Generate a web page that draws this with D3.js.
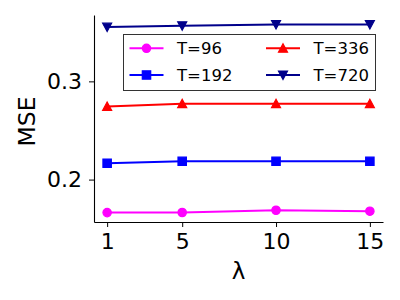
<!DOCTYPE html>
<html>
<head>
<meta charset="utf-8">
<script src="https://cdn.jsdelivr.net/npm/d3@7"></script>
<style>
  body { margin: 0; background: #fff; }
  svg { display: block; font-family: "DejaVu Sans", sans-serif; }
</style>
</head>
<body>
<script>
// values
const lambdas = [1, 5, 10, 15];
const seriesNames = ['T=96', 'T=192', 'T=336', 'T=720'];
const mseT96 = [0.1664, 0.1665, 0.1688, 0.1678];
const mseT192 = [0.2166, 0.2186, 0.2186, 0.2186];
const mseT336 = [0.2745, 0.2773, 0.2773, 0.2773];
const mseT720 = [0.3553, 0.3567, 0.3580, 0.3580];
const yTicks = [0.2, 0.3];

const SETTINGS = {
    width: 400,
    height: 300,
    left: 94,
    right: 383,
    top: 15,
    bottom: 222
};

const series = [
    {name: seriesNames[0], values: mseT96, color: '#ff00ff', marker: 'circle'},
    {name: seriesNames[1], values: mseT192, color: '#0000ff', marker: 'square'},
    {name: seriesNames[2], values: mseT336, color: '#ff0000', marker: 'up'},
    {name: seriesNames[3], values: mseT720, color: '#00008b', marker: 'down'}
];

function markerPath(type){
    let s = 4.2;
    if(type == 'circle') {
        return d3.symbol().type(d3.symbolCircle).size(Math.PI*s*s)();
    }
    if(type == 'square') {
        return 'M'+(-s)+','+(-s)+'H'+s+'V'+s+'H'+(-s)+'Z';
    }
    if(type == 'up') {
        return 'M0,'+(-s-0.3)+'L'+(s+0.3)+','+(s-0.3)+'L'+(-s-0.3)+','+(s-0.3)+'Z';
    }
    return 'M0,'+(s+0.3)+'L'+(s+0.3)+','+(-s+0.3)+'L'+(-s-0.3)+','+(-s+0.3)+'Z';
}

const svg = d3.select('body')
                .append('svg')
                .attr('width', SETTINGS.width)
                .attr('height', SETTINGS.height);

// matplotlib-like 5% margins
let xExtent = d3.extent(lambdas);
let xPad = (xExtent[1]-xExtent[0])*0.05;
let allValues = [].concat(mseT96, mseT192, mseT336, mseT720);
let yExtent = d3.extent(allValues);
let yPad = (yExtent[1]-yExtent[0])*0.05;

const x = d3.scaleLinear()
            .domain([xExtent[0]-xPad, xExtent[1]+xPad])
            .range([SETTINGS.left, SETTINGS.right]);
const y = d3.scaleLinear()
            .domain([yExtent[0]-yPad, yExtent[1]+yPad])
            .range([SETTINGS.bottom, SETTINGS.top]);

// lines and markers
let line = d3.line()
                .x(function(d, i) { return x(lambdas[i]) })
                .y(function(d) { return y(d) });

for(let s of series) {
    let g = svg.append('g');
    g.append('path')
        .attr('d', line(s.values))
        .attr('fill', 'none')
        .attr('stroke', s.color)
        .attr('stroke-width', 2);
    g.selectAll('path.mark')
        .data(s.values)
        .enter()
        .append('path')
        .attr('class', 'mark')
        .attr('d', markerPath(s.marker))
        .attr('transform', (d, i) => 'translate('+x(lambdas[i])+','+y(d)+')')
        .attr('fill', s.color)
        .attr('stroke', s.color)
        .attr('stroke-width', 1.2);
}

// axes
let xAxis = svg.append('g')
                .attr('transform', 'translate(0,'+SETTINGS.bottom+')')
                .call(d3.axisBottom(x).tickValues(lambdas).tickFormat(d3.format('d'))
                        .tickSize(5).tickPadding(6).tickSizeOuter(0));
let yAxis = svg.append('g')
                .attr('transform', 'translate('+SETTINGS.left+',0)')
                .call(d3.axisLeft(y).tickValues(yTicks).tickFormat(d3.format('.1f'))
                        .tickSize(5).tickPadding(7).tickSizeOuter(0));

for(let ax of [xAxis, yAxis]) {
    ax.selectAll('text')
        .attr('font-family', '"DejaVu Sans", sans-serif')
        .attr('font-size', 22)
        .attr('fill', '#000');
    ax.selectAll('line').attr('stroke', '#000').attr('stroke-width', 1);
    ax.select('.domain').attr('stroke', '#000').attr('stroke-width', 1.1);
    ax.attr('font-family', null).attr('font-size', null);
}

// axis titles
svg.append('text')
    .attr('x', (SETTINGS.left+SETTINGS.right)/2)
    .attr('y', 279)
    .attr('text-anchor', 'middle')
    .attr('font-size', 23)
    .text('λ');
svg.append('text')
    .attr('transform', 'translate(35,'+((SETTINGS.top+SETTINGS.bottom)/2+3)+') rotate(-90)')
    .attr('text-anchor', 'middle')
    .attr('font-size', 23.5)
    .text('MSE');

// legend
let legend = svg.append('g');
legend.append('rect')
        .attr('x', 123.5)
        .attr('y', 34.5)
        .attr('width', 252)
        .attr('height', 56)
        .attr('fill', '#fff')
        .attr('stroke', '#333')
        .attr('stroke-width', 1);

let cols = [129.5, 266];
let rows = [48.3, 75];
series.forEach((s, i) => {
    let cx = cols[Math.floor(i/2)];
    let cy = rows[i%2];
    legend.append('line')
            .attr('x1', cx).attr('x2', cx+34)
            .attr('y1', cy).attr('y2', cy)
            .attr('stroke', s.color)
            .attr('stroke-width', 2);
    legend.append('path')
            .attr('d', markerPath(s.marker))
            .attr('transform', 'translate('+(cx+17)+','+cy+')')
            .attr('fill', s.color)
            .attr('stroke', s.color)
            .attr('stroke-width', 1.2);
    legend.append('text')
            .attr('x', cx+47.5)
            .attr('y', cy+6)
            .attr('font-size', 16.5)
            .text(s.name);
});
</script>
</body>
</html>
